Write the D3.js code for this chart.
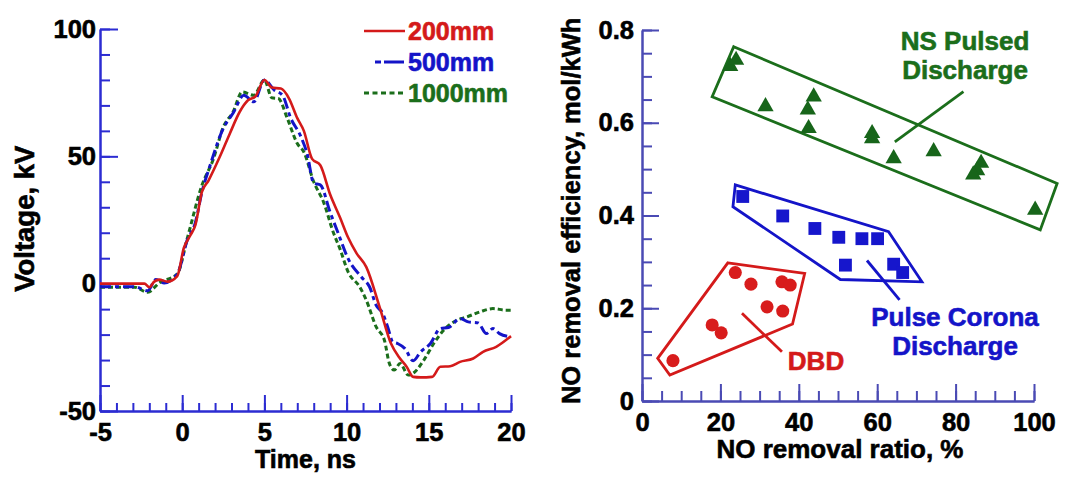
<!DOCTYPE html>
<html>
<head>
<meta charset="utf-8">
<script src="https://cdn.jsdelivr.net/npm/d3@7"></script>
<style>
  html, body { margin: 0; padding: 0; background: #fff; }
  svg { display: block; }
  text { font-family: "Liberation Sans", Arial, Helvetica, sans-serif; font-weight: bold; }
</style>
</head>
<body>
<svg id="chart" width="1069" height="480"></svg>
<script>
// ---------- Left panel: voltage waveforms ----------
const seriesNames = ["200mm", "500mm", "1000mm"];

const time200 = [-5, -2.3, -2.0, -1.7, -1.4, -0.9, -0.3, 0.1, 0.5, 0.8, 1.2, 1.6, 2.3, 2.9, 3.5, 4.0, 4.45, 5.0, 5.45, 6.0, 6.5, 7.0, 7.4, 7.9, 8.4, 9.0, 9.6, 10.1, 10.6, 11.2, 12.0, 12.7, 13.25, 13.65, 14.05, 14.5, 15.2, 15.7, 16.3, 16.9, 17.7, 18.3, 19.1, 20];
const volt200 = [0, 0, -1.4, 0.8, 1.6, 0.8, 3, 14, 19, 23, 36, 40.5, 50, 59, 67.5, 72, 73.5, 80, 77, 76.6, 72.7, 65, 60, 49, 46.5, 35, 26, 18, 12, 6.5, -9, -23.5, -29.4, -32.6, -36.6, -36.8, -36.6, -32.6, -32.4, -30.7, -29.4, -26.8, -24.8, -20.6];

const time500 = [-5, -2.9, -2.1, -1.6, -1.1, -0.3, 0.3, 0.8, 1.2, 1.7, 2.5, 3.1, 3.75, 4.35, 5.0, 5.6, 6.1, 6.6, 7.2, 7.6, 8.0, 8.4, 9.0, 9.5, 10.1, 10.9, 11.4, 11.8, 12.2, 12.5, 12.8, 13.1, 13.55, 14.05, 14.5, 15.1, 15.7, 16.2, 16.9, 17.4, 18.0, 18.5, 18.9, 19.3, 20];
const volt500 = [-1.2, -1.2, -2.8, 1.6, 0.3, 3.8, 17, 24, 36, 46.5, 61, 67, 74, 71.4, 80, 76, 74, 65, 58, 51, 39.5, 38.8, 28, 19.6, 9.7, 2.6, -1.3, -8.5, -11.7, -17, -22.8, -23.5, -25.5, -30.3, -26.8, -23.5, -17.6, -17.2, -13.7, -15, -15.4, -19.6, -17.6, -19.6, -20.9];

const time1000 = [-5, -2.9, -2.1, -1.4, -0.3, 0.3, 1.2, 1.9, 2.5, 3.1, 3.65, 4.35, 5.0, 5.45, 5.85, 6.4, 7.0, 7.4, 8.0, 8.6, 9.2, 9.6, 10.1, 10.8, 11.2, 11.8, 12.3, 12.6, 12.9, 13.25, 13.75, 14.05, 14.7, 15.3, 15.9, 16.7, 17.3, 18.1, 18.9, 19.7, 20];
const volt1000 = [-1.4, -1.4, -3.4, 0.3, 3.8, 17.6, 38.6, 49, 61.5, 67.5, 75.3, 74, 80, 73, 72.7, 64.8, 55, 51.7, 40, 32, 20, 13.6, 4.5, -1.3, -6.5, -17, -22.2, -31.3, -33.9, -31.3, -35.9, -35.2, -30, -23.5, -18.3, -14.4, -13.1, -11.1, -9.8, -10.4, -10.4];

const timeMajorTicks = [-5, 0, 5, 10, 15, 20];
const voltMajorTicks = [-50, 0, 50, 100];

// ---------- Right panel: NO removal ----------
const nsRatio   = [22.5, 24, 31.5, 42.3, 43.8, 42.5, 58.7, 58.7, 64.2, 74.4, 86.5, 85.5, 84.5, 100.3];
const nsEff     = [0.722, 0.735, 0.635, 0.628, 0.656, 0.588, 0.577, 0.566, 0.523, 0.538, 0.513, 0.497, 0.488, 0.412];
const coronaRatio = [25.7, 35.9, 44.1, 50.2, 56.1, 60.1, 51.9, 64.2, 66.5];
const coronaEff   = [0.441, 0.399, 0.372, 0.353, 0.350, 0.350, 0.293, 0.295, 0.277];
const dbdRatio  = [23.8, 27.8, 35.7, 37.8, 31.9, 35.9, 17.9, 20.2, 7.9];
const dbdEff    = [0.277, 0.252, 0.257, 0.250, 0.203, 0.194, 0.164, 0.147, 0.087];

const nsOutline     = [[23.4, 0.764], [105.9, 0.469], [101.6, 0.369], [17.9, 0.656]];
const coronaOutline = [[23.8, 0.466], [62.9, 0.365], [71.4, 0.257], [50.6, 0.262], [23.2, 0.419]];
const dbdOutline    = [[21.9, 0.298], [41.5, 0.275], [38.4, 0.166], [7.1, 0.056], [4.0, 0.092]];

const nsLeader     = [[82, 0.667], [64.5, 0.559]];
const coronaLeader = [[57.4, 0.303], [65.7, 0.218]];
const dbdLeader    = [[25.5, 0.189], [35.7, 0.106]];

const ratioMajorTicks = [0, 20, 40, 60, 80, 100];
const effMajorTicks = [0, 0.2, 0.4, 0.6, 0.8];

// ---------- styling ----------
const RED = "#d41a1a", BLUE = "#1414c8", GREEN = "#1b6e1b";
const AXIS_L = "#2c2cd2", AXIS_R = "#4a4ab4";
const FS = 25.5;
const hyphenInt = d => String(Math.round(d));   // plain hyphen-minus like the original

const svg = d3.select("#chart");

function heavy(sel, color) {
  return sel.attr("stroke", color).attr("stroke-width", 0.6).attr("paint-order", "stroke");
}

function styleAxis(g, color) {
  g.selectAll("path.domain").attr("stroke", color).attr("stroke-width", 2);
  g.selectAll(".tick line").attr("stroke", color).attr("stroke-width", 2);
  heavy(g.selectAll(".tick text").attr("fill", "#000").attr("font-size", FS)
    .attr("font-family", '"Liberation Sans", Arial, sans-serif').attr("font-weight", "bold"), "#000");
  g.attr("font-family", null).attr("font-size", null);
}

// ===== Left panel =====
const xL = d3.scaleLinear().domain([-5, 20]).range([100, 511]);
const yL = d3.scaleLinear().domain([-50, 100]).range([411, 29]);
const gL = svg.append("g");

// minor ticks
gL.append("g").attr("transform", `translate(0,${yL(-50)})`)
  .call(d3.axisBottom(xL).tickValues(d3.range(-5, 21, 1)).tickSizeInner(-8).tickSizeOuter(0).tickFormat(""))
  .call(g => styleAxis(g, AXIS_L));
gL.append("g").attr("transform", `translate(${xL(-5)},0)`)
  .call(d3.axisLeft(yL).tickValues(d3.range(-50, 101, 10)).tickSizeInner(-10).tickSizeOuter(0).tickFormat(""))
  .call(g => styleAxis(g, AXIS_L));
// major ticks
gL.append("g").attr("transform", `translate(0,${yL(-50)})`)
  .call(d3.axisBottom(xL).tickValues(timeMajorTicks).tickSizeInner(-16).tickSizeOuter(0).tickPadding(12).tickFormat(hyphenInt))
  .call(g => styleAxis(g, AXIS_L));
gL.append("g").attr("transform", `translate(${xL(-5)},0)`)
  .call(d3.axisLeft(yL).tickValues(voltMajorTicks).tickSizeInner(-18).tickSizeOuter(0).tickPadding(4).tickFormat(hyphenInt))
  .call(g => styleAxis(g, AXIS_L));

const lineL = d3.line().x(d => xL(d[0])).y(d => yL(d[1])).curve(d3.curveMonotoneX);
const waveData = [
  { name: seriesNames[0], t: time200, v: volt200, color: RED, dash: null, w: 2.6 },
  { name: seriesNames[1], t: time500, v: volt500, color: BLUE, dash: "11,4,4,4", w: 3 },
  { name: seriesNames[2], t: time1000, v: volt1000, color: GREEN, dash: "5,3", w: 3 }
];
waveData.slice().reverse().forEach(s => {
  gL.append("path")
    .datum(s.t.map((t, i) => [t, s.v[i]]))
    .attr("d", lineL)
    .attr("fill", "none")
    .attr("stroke", s.color)
    .attr("stroke-width", s.w)
    .attr("stroke-dasharray", s.dash)
    .attr("stroke-linejoin", "round");
});

// legend
const legend = gL.append("g");
const legendDash = [null, "6,3,20,100", "5,3.5"];
const legendStart = [364, 375, 364];
waveData.forEach((s, i) => {
  const y = 31 + i * 31;
  legend.append("line")
    .attr("x1", legendStart[i]).attr("x2", 405).attr("y1", y).attr("y2", y)
    .attr("stroke", s.color).attr("stroke-width", s.w)
    .attr("stroke-dasharray", legendDash[i]);
  heavy(legend.append("text")
    .attr("x", 408).attr("y", y).attr("dy", "0.36em")
    .attr("fill", s.color).attr("font-size", 25)
    .text(s.name), s.color);
});

// axis titles
heavy(gL.append("text").attr("x", xL(7.5)).attr("y", 468).attr("text-anchor", "middle")
  .attr("font-size", 25).text("Time, ns"), "#000");
heavy(gL.append("text").attr("transform", `translate(34,${yL(25.5)}) rotate(-90)`)
  .attr("text-anchor", "middle").attr("font-size", 27.5).text("Voltage, kV"), "#000");

// ===== Right panel =====
const xR = d3.scaleLinear().domain([0, 100]).range([642, 1034]);
const yR = d3.scaleLinear().domain([0, 0.8]).range([401, 30]);
const gR = svg.append("g");

gR.append("g").attr("transform", `translate(0,${yR(0)})`)
  .call(d3.axisBottom(xR).tickValues(d3.range(0, 101, 5)).tickSizeInner(-10).tickSizeOuter(0).tickFormat(""))
  .call(g => styleAxis(g, AXIS_R));
gR.append("g").attr("transform", `translate(${xR(0)},0)`)
  .call(d3.axisLeft(yR).tickValues(d3.range(0, 16.5, 1).map(d => d * 0.05)).tickSizeInner(-10).tickSizeOuter(0).tickFormat(""))
  .call(g => styleAxis(g, AXIS_R));
gR.append("g").attr("transform", `translate(0,${yR(0)})`)
  .call(d3.axisBottom(xR).tickValues(ratioMajorTicks).tickSizeInner(-17).tickSizeOuter(0).tickPadding(12).tickFormat(hyphenInt))
  .call(g => styleAxis(g, AXIS_R));
gR.append("g").attr("transform", `translate(${xR(0)},0)`)
  .call(d3.axisLeft(yR).tickValues(effMajorTicks).tickSizeInner(-17).tickSizeOuter(0).tickPadding(8).tickFormat(d => d === 0 ? "0" : d3.format(".1f")(d)))
  .call(g => styleAxis(g, AXIS_R));

const poly = d3.line().x(d => xR(d[0])).y(d => yR(d[1])).curve(d3.curveLinearClosed);
const seg = d3.line().x(d => xR(d[0])).y(d => yR(d[1]));

const groups = [
  { x: nsRatio, y: nsEff, outline: nsOutline, leader: nsLeader, color: GREEN, mark: d3.symbolTriangle, size: 115, markColor: "#17651a" },
  { x: coronaRatio, y: coronaEff, outline: coronaOutline, leader: coronaLeader, color: BLUE, mark: d3.symbolSquare, size: 165, markColor: "#1616cc" },
  { x: dbdRatio, y: dbdEff, outline: dbdOutline, leader: dbdLeader, color: RED, mark: d3.symbolCircle, size: 135, markColor: "#d81c1c" }
];
groups.forEach(gp => {
  gR.append("path").attr("d", poly(gp.outline)).attr("fill", "none")
    .attr("stroke", gp.color).attr("stroke-width", 2.8).attr("stroke-linejoin", "miter");
  gR.append("path").attr("d", seg(gp.leader)).attr("fill", "none")
    .attr("stroke", gp.color).attr("stroke-width", 2.8);
  gR.selectAll(null).data(gp.x.map((v, i) => [v, gp.y[i]])).enter()
    .append("path")
    .attr("transform", d => `translate(${xR(d[0])},${yR(d[1])})`)
    .attr("d", d3.symbol().type(gp.mark).size(gp.size))
    .attr("fill", gp.markColor);
});

// annotations
function label(lines, cx, baselines, color) {
  lines.forEach((t, i) => {
    heavy(gR.append("text").attr("x", cx).attr("y", baselines[i]).attr("text-anchor", "middle")
      .attr("fill", color).attr("font-size", 26).text(t), color);
  });
}
label(["NS Pulsed", "Discharge"], 965, [50, 79], GREEN);
label(["Pulse Corona", "Discharge"], 955, [326, 355], BLUE);
label(["DBD"], 816, [370], RED);

// axis titles
heavy(gR.append("text").attr("x", xR(50.5)).attr("y", 458).attr("text-anchor", "middle")
  .attr("font-size", 26).text("NO removal ratio, %"), "#000");
heavy(gR.append("text").attr("transform", `translate(580,${yR(0.41)}) rotate(-90)`)
  .attr("text-anchor", "middle").attr("font-size", 25.5).text("NO removal efficiency, mol/kWh"), "#000");
</script>
</body>
</html>
